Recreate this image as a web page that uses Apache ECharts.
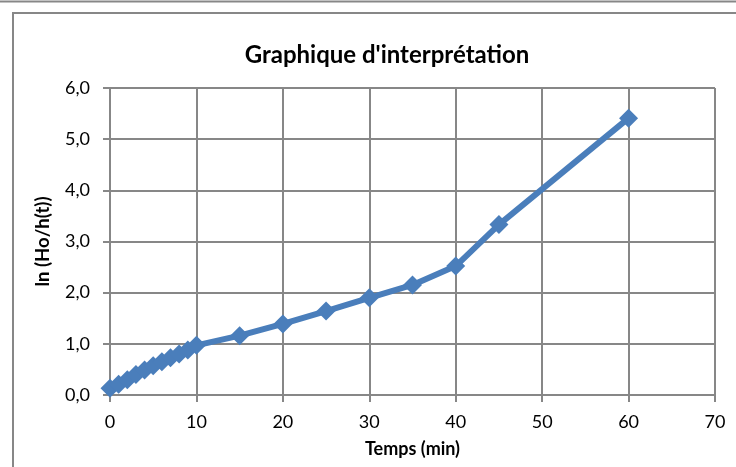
<!DOCTYPE html>
<html>
<head>
<meta charset="utf-8">
<script src="https://cdn.jsdelivr.net/npm/echarts@6/dist/echarts.min.js"></script>
<style>
html,body{margin:0;padding:0;background:#fff;}
#chart{width:736px;height:467px;}
</style>
</head>
<body>
<div id="chart"></div>
<script>
const times = [0, 1, 2, 3, 4, 5, 6, 7, 8, 9, 10, 15, 20, 25, 30, 35, 40, 45, 60];
const lnValues = [0.13, 0.21, 0.30, 0.40, 0.49, 0.57, 0.65, 0.73, 0.80, 0.88, 0.97, 1.16, 1.39, 1.64, 1.90, 2.15, 2.52, 3.33, 5.41];
const titleText = "Graphique d'interprétation";
const xAxisName = "Temps (min)";
const yAxisName = "ln (Ho/h(t))";

const FONT = "Lato";
const GRAY = '#878787';
const chart = echarts.init(document.getElementById('chart'));
chart.setOption({
  animation: false,
  backgroundColor: '#fff',
  title: {
    text: titleText,
    left: 382, top: 38, textAlign: 'center',
    textStyle: {fontFamily: FONT, fontSize: 24, fontWeight: 'bold', color: '#000'}
  },
  graphic: [
    {type: 'line', shape: {x1: 0, y1: 1.5, x2: 736, y2: 1.5}, style: {stroke: GRAY, lineWidth: 2}},
    {type: 'rect', shape: {x: 13, y: 13, width: 740, height: 470}, style: {fill: 'none', stroke: GRAY, lineWidth: 2}}
  ],
  grid: {left: 110, right: 21, top: 88, bottom: 72},
  xAxis: {
    type: 'value', min: 0, max: 70, interval: 10,
    name: xAxisName, nameLocation: 'middle', nameGap: 45,
    nameTextStyle: {fontFamily: FONT, fontSize: 18, fontWeight: 'bold', color: '#000'},
    axisLine: {show: true, lineStyle: {color: GRAY, width: 2}},
    axisTick: {show: true, length: 7, lineStyle: {color: GRAY, width: 2}},
    axisLabel: {fontFamily: FONT, fontSize: 18, color: '#000', margin: 18},
    splitLine: {show: true, lineStyle: {color: GRAY, width: 2}}
  },
  yAxis: {
    type: 'value', min: 0, max: 6, interval: 1,
    name: yAxisName, nameLocation: 'middle', nameGap: 57, nameRotate: 90,
    nameTextStyle: {fontFamily: FONT, fontSize: 18.5, fontWeight: 'bold', color: '#000'},
    axisLine: {show: true, lineStyle: {color: GRAY, width: 2}},
    axisTick: {show: true, length: 7, lineStyle: {color: GRAY, width: 2}},
    axisLabel: {fontFamily: FONT, fontSize: 18, color: '#000', margin: 20,
      formatter: v => v.toFixed(1).replace('.', ',')},
    splitLine: {show: true, lineStyle: {color: GRAY, width: 2}}
  },
  series: [{
    type: 'line',
    data: times.map((t, i) => [t, lnValues[i]]),
    symbol: 'diamond', symbolSize: 19,
    lineStyle: {color: '#4a7ebb', width: 6},
    itemStyle: {color: '#4a7ebb'},
    clip: false
  }]
});
</script>
</body>
</html>
